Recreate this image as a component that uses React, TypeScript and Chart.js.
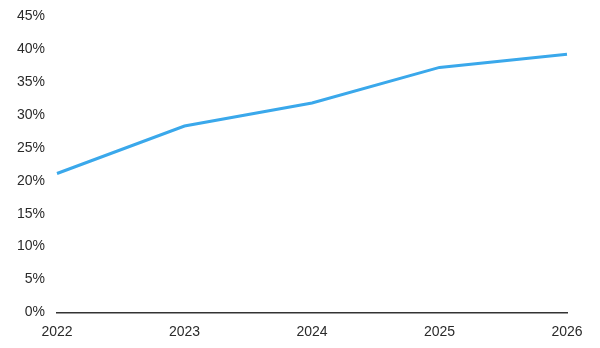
import React, { useEffect, useRef } from "react";
import { Chart, registerables } from "chart.js";

Chart.register(...registerables);

const years = ["2022", "2023", "2024", "2025", "2026"];
const share = [21.1, 28.3, 31.8, 37.2, 39.2];
const yMin = 0;
const yMax = 45;
const yStep = 5;

export default function App() {
  const ref = useRef<HTMLCanvasElement | null>(null);

  useEffect(() => {
    document.body.style.margin = "0";
    const canvas = ref.current;
    if (!canvas) return;
    const chart = new Chart(canvas, {
      type: "line",
      data: {
        labels: years,
        datasets: [
          {
            data: share,
            borderColor: "#3AA8EB",
            borderWidth: 3,
            pointRadius: 0,
            tension: 0,
            fill: false,
          },
        ],
      },
      options: {
        animation: false,
        responsive: false,
        maintainAspectRatio: false,
        layout: { padding: { top: 16, right: 33, left: 0, bottom: 0 } },
        plugins: { legend: { display: false }, tooltip: { enabled: false } },
        scales: {
          x: {
            type: "category",
            offset: false,
            grid: { display: false, drawTicks: false, tickLength: 0 },
            border: { display: true, color: "#333333", width: 1.5 },
            ticks: {
              color: "#2a2a2a",
              font: { family: "'Liberation Sans', Arial, sans-serif", size: 14 },
              padding: 11,
              maxRotation: 0,
              autoSkip: false,
            },
            afterFit: (s: any) => {
              s.height = 35.5;
              s.paddingLeft = 0;
              s.paddingRight = 0;
            },
          },
          y: {
            min: yMin,
            max: yMax,
            grid: { display: false, drawTicks: false, tickLength: 0 },
            border: { display: false },
            ticks: {
              stepSize: yStep,
              color: "#2a2a2a",
              font: { family: "'Liberation Sans', Arial, sans-serif", size: 14 },
              padding: 12,
              callback: (v: any) => `${v}%`,
            },
            afterFit: (s: any) => {
              s.width = 57;
              s.paddingTop = 0;
              s.paddingBottom = 0;
            },
          },
        },
      },
    });
    return () => chart.destroy();
  }, []);

  return (
    <div style={{ width: 600, height: 348, background: "#ffffff" }}>
      <canvas ref={ref} width={600} height={348} style={{ display: "block" }} />
    </div>
  );
}
